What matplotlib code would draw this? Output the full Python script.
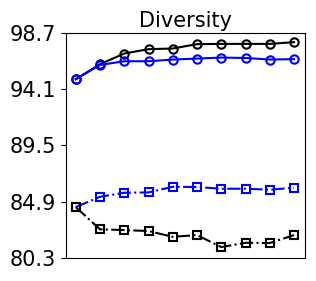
import matplotlib
matplotlib.use("Agg")
import matplotlib.pyplot as plt

x = list(range(10))
black_circle = [94.91, 96.14, 97.01, 97.37, 97.42, 97.78, 97.80, 97.80, 97.80, 97.94]
blue_circle = [94.91, 96.08, 96.38, 96.38, 96.52, 96.60, 96.68, 96.65, 96.52, 96.55]
blue_square = [84.46, 85.30, 85.63, 85.66, 86.12, 86.10, 85.96, 85.96, 85.88, 86.04]
black_square = [84.46, 82.64, 82.58, 82.50, 82.03, 82.17, 81.19, 81.54, 81.52, 82.17]
yticks = [80.3, 84.9, 89.5, 94.1, 98.7]

fig, ax = plt.subplots(figsize=(3.16, 2.81), dpi=100)
fig.subplots_adjust(left=0.209, right=0.965, top=0.883, bottom=0.082)

ax.plot(x, black_circle, "-", color="black", marker="o", mfc="none",
        markersize=6, lw=1.5, mew=1.5)
ax.plot(x, blue_circle, "-", color="blue", marker="o", mfc="none",
        markersize=6, lw=1.5, mew=1.5)
ax.plot(x, blue_square, "-.", color="blue", marker="s", mfc="none",
        markersize=6, lw=1.5, mew=1.5)
ax.plot(x, black_square, "-.", color="black", marker="s", mfc="none",
        markersize=6, lw=1.5, mew=1.5)

ax.set_xlim(-0.4, 9.45)
ax.set_ylim(80.3, 98.7)
ax.set_yticks(yticks)
ax.set_yticklabels([f"{v:.1f}" for v in yticks], fontsize=15)
ax.set_xticks([])
ax.set_title("Diversity", fontsize=15, pad=4)

fig.savefig("out.png")
